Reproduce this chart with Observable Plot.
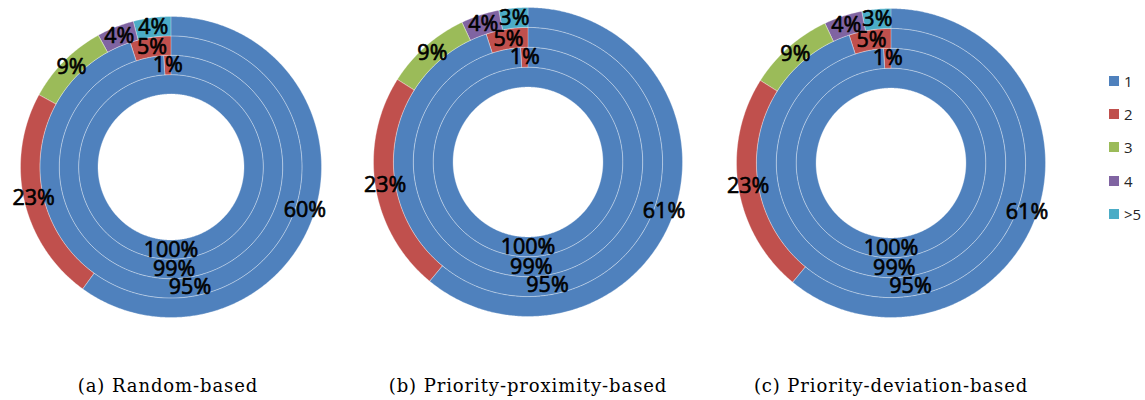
<!DOCTYPE html>
<html><head><meta charset="utf-8">
<script src="https://cdn.jsdelivr.net/npm/d3@7"></script>
<script src="https://cdn.jsdelivr.net/npm/@observablehq/plot@0.6"></script>
<style>
body{margin:0;background:#fff;}
#wrap{position:relative;width:1145px;height:400px;overflow:hidden;background:#fff;}
.panel{position:absolute;}
.panel svg{overflow:visible;}
.cap{position:absolute;top:375px;font-family:"DejaVu Serif",serif;font-size:18px;letter-spacing:0.9px;white-space:nowrap;transform:translateX(-50%);color:#000;line-height:22px;}
.leg{position:absolute;left:1109px;font-family:"Open Sans",sans-serif;font-size:15px;color:#262626;display:flex;align-items:center;height:20px;}
.leg .sw{width:10px;height:10px;margin-right:5px;}
</style></head><body><div id="wrap"></div>
<script>
// ---- data ----
const categories = ["1", "2", "3", "4", ">5"];
const categoryColors = ["#4F81BD", "#C0504D", "#9BBB59", "#8064A2", "#4BACC6"];
const captions = ["(a) Random-based", "(b) Priority-proximity-based", "(c) Priority-deviation-based"];
const innerRing = [100];            // ring 1: category 1
const secondRing = [99, 1];         // ring 2: categories 1, 2
const thirdRing = [95, 5];          // ring 3: categories 1, 2
const outerRingA = [60, 23, 9, 4, 4];
const outerRingB = [61, 23, 9, 4, 3];
const outerRingC = [61, 23, 9, 4, 3];
const panelRings = [
  [innerRing, secondRing, thirdRing, outerRingA],
  [innerRing, secondRing, thirdRing, outerRingB],
  [innerRing, secondRing, thirdRing, outerRingC]
];

// ---- layout ----
const geom = [
  {cx: 170.5, cy: 166.5, R: 150.5, capX: 168},
  {cx: 527.5, cy: 161, R: 154.5, capX: 528},
  {cx: 890, cy: 162.5, R: 154.5, capX: 891}
];
const hole = 0.485;
const ringW = (1 - hole) / 4;
const pad = 24;

function pt(r, a) { // a in fraction of full turn, clockwise from top
  const t = a * 2 * Math.PI;
  return [r * Math.sin(t), -r * Math.cos(t)];
}
function arcPts(r, a0, a1) {
  const n = Math.max(2, Math.ceil(Math.abs(a1 - a0) * 720));
  const out = [];
  for (let i = 0; i <= n; i++) out.push(pt(r, a0 + (a1 - a0) * i / n));
  return out;
}
const circleDomain = {type: "Polygon", coordinates: [arcPts(1, 0, 1)]};

const wrap = document.getElementById("wrap");

panelRings.forEach((rings, p) => {
  const features = [];
  const labels = [];
  rings.forEach((vals, ri) => {
    const r0 = hole + ri * ringW, r1 = r0 + ringW;
    const total = d3.sum(vals);
    let acc = 0;
    vals.forEach((v, ci) => {
      const a0 = acc / total, a1 = (acc + v) / total;
      acc += v;
      let coords;
      if (a1 - a0 >= 0.99999) {
        coords = [arcPts(r1, 0, 1), arcPts(r0, 1, 0)];
      } else {
        const ring = arcPts(r1, a0, a1).concat(arcPts(r0, a1, a0));
        ring.push(ring[0]);
        coords = [ring];
      }
      features.push({type: "Feature", properties: {category: categories[ci]}, geometry: {type: "Polygon", coordinates: coords}});
      const [lx, ly] = pt((r0 + r1) / 2, (a0 + a1) / 2);
      labels.push({x: lx, y: ly, text: v + "%"});
    });
  });

  const g = geom[p];
  const W = 2 * g.R + 2 * pad;
  const chart = Plot.plot({
    width: W,
    height: W,
    margin: 0,
    projection: {type: "identity", domain: circleDomain, inset: pad},
    color: {domain: categories, range: categoryColors},
    marks: [
      Plot.geo(features, {fill: d => d.properties.category, stroke: "white", strokeWidth: 0.6, strokeOpacity: 0.55}),
      Plot.text(labels, {x: "x", y: "y", text: "text", fontSize: 21.5, fontFamily: "Open Sans", fill: "#000", stroke: "#000", strokeWidth: 0.65})
    ]
  });
  const div = document.createElement("div");
  div.className = "panel";
  div.style.left = (g.cx - g.R - pad) + "px";
  div.style.top = (g.cy - g.R - pad) + "px";
  div.appendChild(chart);
  wrap.appendChild(div);

  const cap = document.createElement("div");
  cap.className = "cap";
  cap.style.left = g.capX + "px";
  cap.textContent = captions[p];
  wrap.appendChild(cap);
});

// legend
const legRows = [81, 114, 147, 181, 214];
categories.forEach((c, i) => {
  const row = document.createElement("div");
  row.className = "leg";
  row.style.top = (legRows[i] - 10) + "px";
  const sw = document.createElement("div");
  sw.className = "sw";
  sw.style.background = categoryColors[i];
  const t = document.createElement("span");
  t.textContent = c;
  row.appendChild(sw);
  row.appendChild(t);
  wrap.appendChild(row);
});
</script>
</body></html>
